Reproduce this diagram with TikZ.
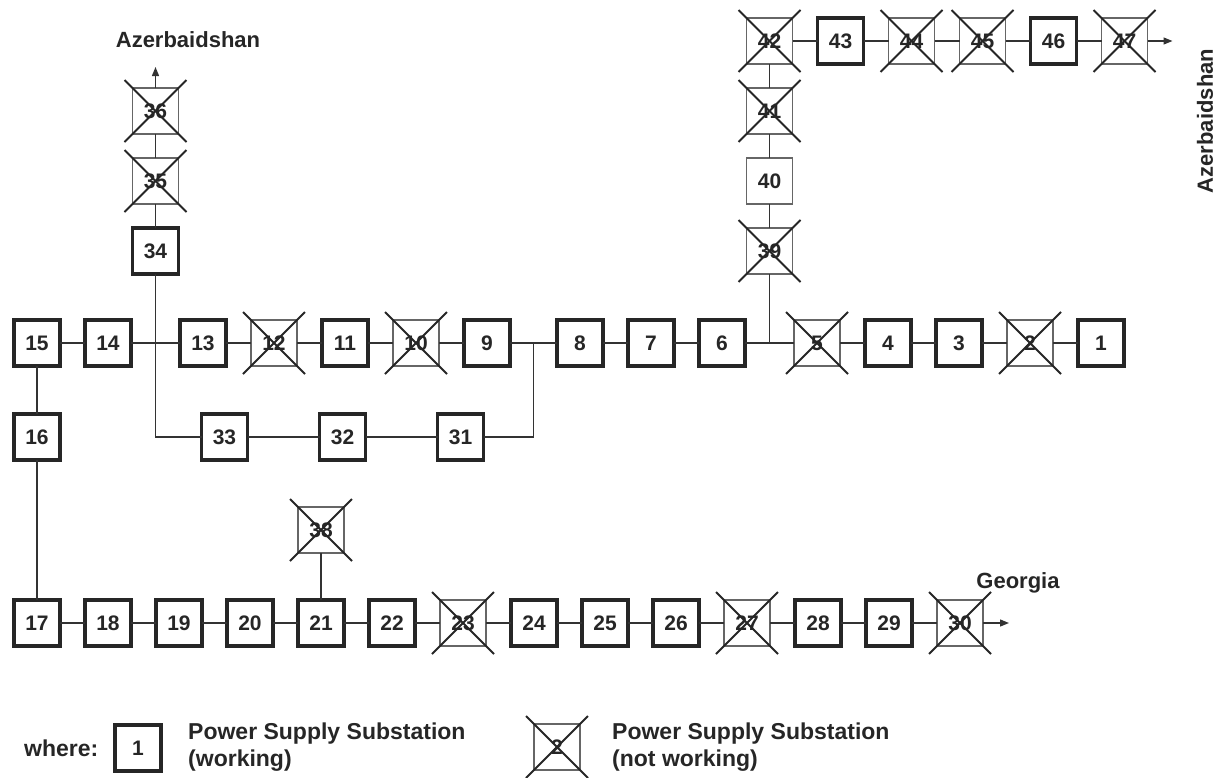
\documentclass[tikz,border=0pt]{standalone}
\usepackage{fontspec}
\setmainfont{Liberation Sans}
\usetikzlibrary{positioning, arrows.meta, calc}
\newcommand{\boxfont}{\fontsize{21}{22}\selectfont\bfseries}
\newcommand{\lblfont}{\fontsize{22}{26}\selectfont\bfseries}
\newcommand{\keyfont}{\fontsize{23}{27}\selectfont\bfseries}
\tikzset{
  sub/.style={draw=black!85, line width=3.7pt, minimum size=46pt, inner sep=0pt, outer sep=0pt, font=\boxfont, text=black!85},
  subthin/.style={sub, line width=1.1pt, draw=black!60},
  wire/.style={line width=1.3pt, draw=black!80},
  feed/.style={wire, -{Triangle[length=9pt, width=7pt]}},
  xline/.style={line width=1.8pt, draw=black!85},
  lbl/.style={font=\lblfont, text=black!85, inner sep=0pt},
}

\begin{document}
\begin{tikzpicture}[x=1pt, y=-1pt, node distance=25pt]
\useasboundingbox (0,0) rectangle (1221,777);
% main line
\node[sub] (s15) at (37,343) {15};
\node[sub, right=of s15] (s14) {14};
\node[sub, right=49pt of s14] (s13) {13};
\node[subthin, right=of s13] (s12) {12};
\node[sub, right=of s12] (s11) {11};
\node[subthin, right=of s11] (s10) {10};
\node[sub, right=of s10] (s9) {9};
\node[sub, right=47pt of s9] (s8) {8};
\node[sub, right=of s8] (s7) {7};
\node[sub, right=of s7] (s6) {6};
\node[subthin, right=49pt of s6] (s5) {5};
\node[sub, right=of s5] (s4) {4};
\node[sub, right=of s4] (s3) {3};
\node[subthin, right=of s3] (s2) {2};
\node[sub, right=of s2] (s1) {1};
\coordinate (j1) at ($(s14.east)!.5!(s13.west)$);
\coordinate (j2) at ($(s9.east)!.5!(s8.west)$);
\coordinate (j3) at ($(s6.east)!.5!(s5.west)$);
% loop 31-33
\node[sub, below=48pt of s15] (s16) {16};
\coordinate (c1) at (j1 |- s16);
\node[sub, right=46pt of c1] (s33) {33};
\node[sub, right=72pt of s33] (s32) {32};
\node[sub, right=72pt of s32] (s31) {31};
% branch to Azerbaidshan (north)
\node[sub, above=69pt of j1] (s34) {34};
\node[subthin, above=24pt of s34] (s35) {35};
\node[subthin, above=24pt of s35] (s36) {36};
\coordinate[above=21pt of s36.north] (a36);
\node[lbl] (azn) at (188,40) {Azerbaidshan};
% branch to Azerbaidshan (east)
\node[subthin, above=69pt of j3] (s39) {39};
\node[subthin, above=24pt of s39] (s40) {40};
\node[subthin, above=24pt of s40] (s41) {41};
\node[subthin, above=24pt of s41] (s42) {42};
\node[sub, right=of s42] (s43) {43};
\node[subthin, right=of s43] (s44) {44};
\node[subthin, right=of s44] (s45) {45};
\node[sub, right=of s45] (s46) {46};
\node[subthin, right=of s46] (s47) {47};
\coordinate[right=25pt of s47.east] (a47);
\node[lbl, rotate=90] (aze) at (1205,121) {Azerbaidshan};
% line to Georgia
\node[sub, below=140pt of s16] (s17) {17};
\node[sub, right=of s17] (s18) {18};
\node[sub, right=of s18] (s19) {19};
\node[sub, right=of s19] (s20) {20};
\node[sub, right=of s20] (s21) {21};
\node[sub, right=of s21] (s22) {22};
\node[subthin, right=of s22] (s23) {23};
\node[sub, right=of s23] (s24) {24};
\node[sub, right=of s24] (s25) {25};
\node[sub, right=of s25] (s26) {26};
\node[subthin, right=of s26] (s27) {27};
\node[sub, right=of s27] (s28) {28};
\node[sub, right=of s28] (s29) {29};
\node[subthin, right=of s29] (s30) {30};
\node[subthin, above=47pt of s21] (s38) {38};
\coordinate[right=26pt of s30.east] (a30);
\node[lbl] (geo) at (1018,583) {Georgia};
% legend
\node[lbl, font=\keyfont, anchor=west] (where) at (24,748) {where:};
\node[sub] (k1) at (138,748) {1};
\node[lbl, font=\keyfont, anchor=west, align=left] (k1txt) at (188,747) {Power Supply Substation\\(working)};
\node[subthin] (k2) at (557,747) {2};
\node[lbl, font=\keyfont, anchor=west, align=left] (k2txt) at (612,747) {Power Supply Substation\\(not working)};
% connectors
\draw[wire] (s15) -- (s14) -- (s13) -- (s12) -- (s11) -- (s10) -- (s9) -- (s8) -- (s7) -- (s6) -- (s5) -- (s4) -- (s3) -- (s2) -- (s1);
\draw[wire] (s36) -- (s35) -- (s34) -- (c1) -- (s33) -- (s32) -- (s31) -- (j2 |- s31) -- (j2);
\draw[feed] (s36) -- (a36);
\draw[wire] (j3) -- (s39) -- (s40) -- (s41) -- (s42) -- (s43) -- (s44) -- (s45) -- (s46) -- (s47);
\draw[feed] (s47) -- (a47);
\draw[wire] (s15) -- (s16) -- (s17) -- (s18) -- (s19) -- (s20) -- (s21) -- (s22) -- (s23) -- (s24) -- (s25) -- (s26) -- (s27) -- (s28) -- (s29) -- (s30);
\draw[wire] (s21) -- (s38);
\draw[feed] (s30) -- (a30);
% out of service
\foreach \n in {s2,s5,s10,s12,s23,s27,s30,s35,s36,s38,s39,s41,s42,s44,s45,s47,k2} {
  \draw[xline] ([shift={(-31,-31)}]\n.center) -- ([shift={(31,31)}]\n.center);
  \draw[xline] ([shift={(-31,31)}]\n.center) -- ([shift={(31,-31)}]\n.center);
}
\end{tikzpicture}
\end{document}
